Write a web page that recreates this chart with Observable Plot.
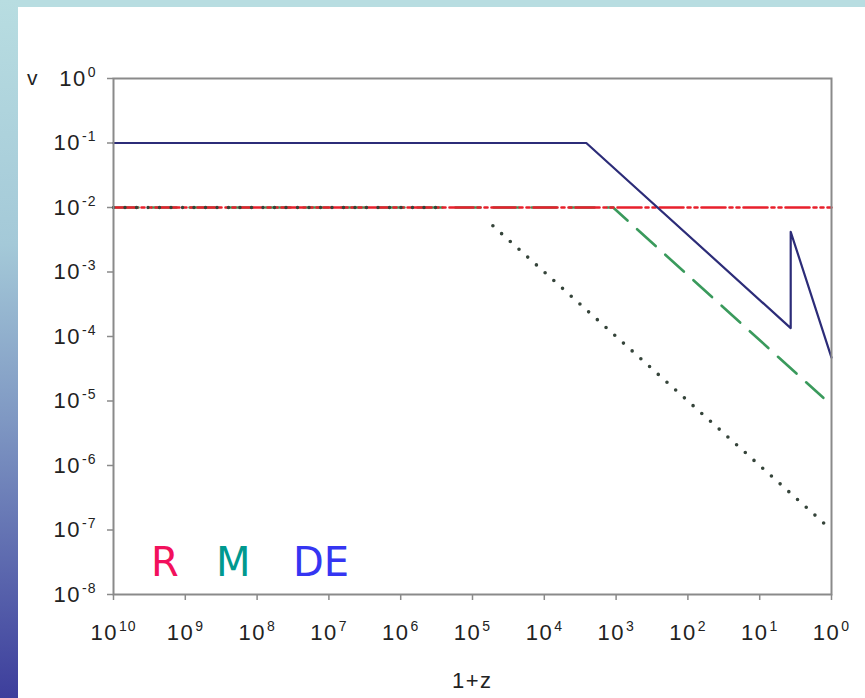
<!DOCTYPE html>
<html>
<head>
<meta charset="utf-8">
<script src="https://cdn.jsdelivr.net/npm/d3@7"></script>
<script src="https://cdn.jsdelivr.net/npm/@observablehq/plot@0.6"></script>
<style>
  html, body { margin: 0; padding: 0; width: 865px; height: 698px; overflow: hidden; background: #ffffff; }
  #wrap { position: relative; width: 865px; height: 698px; }
  #topstrip { position: absolute; left: 0; top: 0; width: 865px; height: 7px; background: #b8dde1; }
  #leftstrip { position: absolute; left: 0; top: 0; width: 18px; height: 698px;
    background: linear-gradient(to bottom, #b8dde1 0%, #a4c9d8 35%, #7f98c3 60%, #3d3e9c 100%); }
  #chart { position: absolute; left: 0; top: 0; }
  .lbl { position: absolute; font-family: "Liberation Sans", Arial, sans-serif; color: #222; line-height: 1; }
  .leg { position: absolute; font-family: "DejaVu Sans", sans-serif; font-size: 40px; line-height: 1; }
</style>
</head>
<body>
<div id="wrap">
  <div id="topstrip"></div>
  <div id="leftstrip"></div>
  <div id="chart"></div>
</div>
<script>
// ---- data ----
const xTicks = [1e10, 1e9, 1e8, 1e7, 1e6, 1e5, 1e4, 1e3, 1e2, 1e1, 1e0];
const yTicks = [1e0, 1e-1, 1e-2, 1e-3, 1e-4, 1e-5, 1e-6, 1e-7, 1e-8];

// DE (dark solid)
const deZ = [1e10, 2600, 3.7, 3.7, 1];
const deV = [0.1, 0.1, 1.35e-4, 4.2e-3, 4.7e-5];
// R (red dash-dot-dot)
const rZ = [1e10, 1];
const rV = [1e-2, 1e-2];
// M (green dashed)
const mZ = [1e10, 1100, 1.3];
const mV = [1e-2, 1e-2, 1.12e-5];
// dotted component (two pieces)
const dotZ1 = [1e10, 3e5];
const dotV1 = [1e-2, 1e-2];
const dotZ2 = [5.2e4, 1];
const dotV2 = [5.2e-3, 1e-7];

const legend = [
  {text: "R", color: "#f2105c", left: 151},
  {text: "M", color: "#00998f", left: 216},
  {text: "DE", color: "#3535f2", left: 293}
];

const toRows = (xs, ys) => xs.map((x, i) => ({x, y: ys[i]}));

const sup = (v) => "10^" + Math.round(Math.log10(v));
const FONT = "'Liberation Sans', Arial, sans-serif";

const plot = Plot.plot({
  width: 865,
  height: 698,
  marginLeft: 113,
  marginRight: 34,
  marginTop: 78,
  marginBottom: 104,
  style: {fontSize: "22px", fontFamily: FONT, background: "transparent", color: "#222", overflow: "visible"},
  x: {type: "log", domain: [1e10, 1], label: null},
  y: {type: "log", domain: [1e-8, 1], label: null},
  marks: [
    Plot.axisX({ticks: xTicks, tickFormat: sup, tickSize: 6, tickPadding: 24, fontSize: 22, fontFamily: FONT, stroke: "#8a8a8a", strokeWidth: 1.5, label: null}),
    Plot.axisY({ticks: yTicks, tickFormat: sup, tickSize: 6, tickPadding: 11, fontSize: 22, fontFamily: FONT, stroke: "#8a8a8a", strokeWidth: 1.5, label: null}),
    Plot.line(toRows(mZ, mV), {x: "x", y: "y", stroke: "#3a9a5c", strokeWidth: 2.6, strokeDasharray: "25,13"}),
    Plot.line(toRows(rZ, rV), {x: "x", y: "y", stroke: "#e8202c", strokeWidth: 2.6, strokeDasharray: "24,4,3,4,3,4"}),
    Plot.line(toRows(dotZ1, dotV1), {x: "x", y: "y", stroke: "#35443a", strokeWidth: 3.4, strokeDasharray: "0,11.5", strokeLinecap: "round"}),
    Plot.line(toRows(dotZ2, dotV2), {x: "x", y: "y", stroke: "#35443a", strokeWidth: 3.6, strokeDasharray: "0,11.7", strokeLinecap: "round"}),
    Plot.line(toRows(deZ, deV), {x: "x", y: "y", stroke: "#2c2c78", strokeWidth: 2.2}),
    Plot.frame({stroke: "#8a8a8a", strokeWidth: 2})
  ]
});

// superscript exponents in tick labels
d3.select(plot).selectAll('g[aria-label="x-axis tick label"] text, g[aria-label="y-axis tick label"] text').each(function() {
  const t = d3.select(this);
  const s = t.text();
  const parts = s.split("^");
  if (parts.length !== 2) return;
  t.text(null);
  t.append("tspan").attr("letter-spacing", "1.5px").text(parts[0]);
  t.append("tspan").attr("font-size", "14px").attr("dy", "-9").attr("dx", "1").attr("letter-spacing", "1px").text(parts[1]);
});

document.getElementById("chart").appendChild(plot);

const wrap = document.getElementById("wrap");
const vLab = document.createElement("div");
vLab.className = "lbl"; vLab.textContent = "v";
vLab.style.left = "27px"; vLab.style.top = "67px"; vLab.style.fontSize = "21px";
wrap.appendChild(vLab);
const zLab = document.createElement("div");
zLab.className = "lbl"; zLab.textContent = "1+z";
zLab.style.left = "452px"; zLab.style.top = "670px"; zLab.style.fontSize = "22px";
zLab.style.letterSpacing = "1.5px";
wrap.appendChild(zLab);

legend.forEach(l => {
  const d = document.createElement("div");
  d.className = "leg";
  d.textContent = l.text;
  d.style.color = l.color;
  d.style.left = l.left + "px";
  d.style.top = "542px";
  wrap.appendChild(d);
});
</script>
</body>
</html>
